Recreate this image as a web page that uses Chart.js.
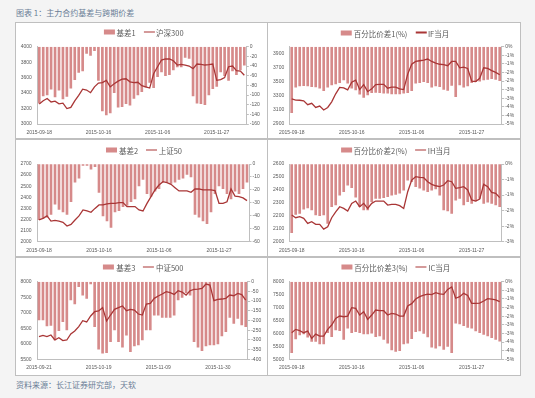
<!DOCTYPE html>
<html><head><meta charset="utf-8">
<script src="https://cdn.jsdelivr.net/npm/chart.js@4"></script>
<style>
html,body{margin:0;padding:0;}
body{width:535px;height:398px;background:#f4f4f4;position:relative;overflow:hidden;font-family:"Noto Sans CJK SC","Noto Sans",sans-serif;}
.note{position:absolute;left:16px;font-size:8px;line-height:10px;color:#6a7d96;white-space:nowrap;transform:translateY(-50%);}
.panel{position:absolute;background:#fff;border:1px solid #bfbfbf;box-sizing:border-box;}
.panel canvas{position:absolute;left:0;top:0;}
.legend{position:absolute;display:flex;align-items:center;transform:translate(-50%,-50%);white-space:nowrap;font-size:7.5px;line-height:9px;color:#595959;}
.sw-bar{width:11px;height:5px;background:#d68a8a;margin-right:2px;}
.sw-line{width:11px;height:1.4px;background:#a93636;margin-left:8px;margin-right:1.5px;}
</style></head>
<body>
<div class="note" style="top:12.7px">图表 1：主力合约基差与跨期价差</div>
<div class="note" style="top:385px">资料来源：长江证券研究部，天软</div>
<div id="wrap"></div>
<script>
// ---------- categories ----------
const datesA = ['2015-09-18','2015-09-21','2015-09-22','2015-09-23','2015-09-24','2015-09-25','2015-09-28','2015-09-29','2015-09-30','2015-10-08','2015-10-09','2015-10-12','2015-10-13','2015-10-14','2015-10-15','2015-10-16','2015-10-19','2015-10-20','2015-10-21','2015-10-22','2015-10-23','2015-10-26','2015-10-27','2015-10-28','2015-10-29','2015-10-30','2015-11-02','2015-11-03','2015-11-04','2015-11-05','2015-11-06','2015-11-09','2015-11-10','2015-11-11','2015-11-12','2015-11-13','2015-11-16','2015-11-17','2015-11-18','2015-11-19','2015-11-20','2015-11-23','2015-11-24','2015-11-25','2015-11-26','2015-11-27','2015-11-30','2015-12-01','2015-12-02','2015-12-03','2015-12-04','2015-12-07','2015-12-08'];
const datesB = ['2015-09-21','2015-09-22','2015-09-23','2015-09-24','2015-09-25','2015-09-28','2015-09-29','2015-09-30','2015-10-08','2015-10-09','2015-10-12','2015-10-13','2015-10-14','2015-10-15','2015-10-16','2015-10-19','2015-10-20','2015-10-21','2015-10-22','2015-10-23','2015-10-26','2015-10-27','2015-10-28','2015-10-29','2015-10-30','2015-11-02','2015-11-03','2015-11-04','2015-11-05','2015-11-06','2015-11-09','2015-11-10','2015-11-11','2015-11-12','2015-11-13','2015-11-16','2015-11-17','2015-11-18','2015-11-19','2015-11-20','2015-11-23','2015-11-24','2015-11-25','2015-11-26','2015-11-27','2015-11-30','2015-12-01','2015-12-02','2015-12-03','2015-12-04','2015-12-07','2015-12-08','2015-12-09'];
const shownA = ['2015-09-18','2015-10-16','2015-11-06','2015-11-27'];
const shownB = ['2015-09-21','2015-10-19','2015-11-09','2015-11-30'];

// ---------- series ----------
const p1Basis = [-117,-102,-100,-88,-104,-90,-108,-103,-86,-68,-53,-50,-14,-18,-8,-70,-133,-141,-137,-95,-125,-124,-118,-121,-107,-100,-93,-84,-74,-85,-62,-52,-60,-58,-48,-42,-42,-22,-24,-102,-117,-118,-120,-100,-87,-82,-52,-60,-70,-50,-58,-48,-38];
const p1Index = [3259,3300,3330,3285,3295,3260,3270,3200,3215,3300,3370,3450,3440,3405,3480,3530,3535,3565,3480,3520,3555,3580,3585,3545,3535,3540,3495,3480,3465,3650,3741,3828,3841,3841,3819,3763,3772,3763,3750,3716,3776,3772,3763,3767,3776,3565,3575,3600,3741,3750,3690,3685,3630];

const p2Spread = [-3.84,-2.36,-2.29,-2.27,-2.29,-2.33,-2.34,-2.42,-2.56,-2.36,-2.23,-2.17,-2.09,-1.94,-2.13,-2.42,-2.52,-2.77,-2.95,-2.81,-2.67,-2.66,-2.67,-2.71,-2.71,-2.75,-2.75,-2.75,-2.71,-2.67,-2.56,-2.13,-2.09,-2.03,-2.09,-2.36,-2.29,-2.33,-2.48,-2.55,-2.25,-2.91,-2.23,-2.36,-2.29,-2.09,-2.03,-2.0,-1.94,-1.90,-1.86,-1.90,-1.98];
const p2Future = [3256,3241,3238,3230,3175,3195,3135,3155,3100,3135,3215,3330,3420,3415,3385,3495,3525,3390,3460,3360,3400,3460,3465,3465,3410,3425,3425,3400,3390,3610,3750,3790,3800,3810,3825,3790,3765,3750,3745,3730,3790,3790,3700,3710,3690,3510,3505,3550,3700,3690,3660,3635,3600];

const p3Basis = [-43,-42,-41,-39,-31,-35,-37,-39,-29,-14,-11,-1,-1,-4,-2,-22,-40,-44,-49,-37,-36,-33,-32,-29,-27,-17,-12,-23,-25,-21,-19,-14,-14,-15,-14,-12,-11,-8,-10,-39,-41,-44,-46,-37,-23,-17,-19,-23,-27,-21,-23,-19,-14];
const p3Index = [2196,2210,2232,2186,2192,2186,2175,2141,2156,2196,2232,2286,2277,2265,2300,2331,2331,2340,2346,2346,2352,2352,2316,2316,2316,2286,2277,2345,2406,2466,2511,2541,2532,2517,2487,2457,2457,2457,2445,2475,2475,2466,2466,2466,2460,2346,2346,2360,2475,2410,2406,2395,2370];

const p4Spread = [-2.21,-1.62,-1.59,-1.45,-1.41,-1.48,-1.64,-1.66,-1.64,-1.91,-1.37,-1.32,-1.00,-0.89,-0.68,-0.76,-1.07,-1.37,-1.48,-1.48,-1.21,-1.11,-1.11,-1.08,-1.05,-1.00,-0.98,-0.94,-0.84,-0.52,-0.57,-0.73,-0.78,-0.84,-0.89,-0.84,-0.80,-1.00,-1.48,-1.51,-1.59,-1.16,-1.11,-1.32,-1.21,-1.27,-1.19,-1.11,-1.27,-1.23,-1.27,-1.32,-1.37];
const p4Future = [2206,2185,2193,2180,2141,2154,2134,2134,2097,2115,2185,2231,2270,2257,2237,2296,2314,2270,2296,2257,2296,2314,2314,2314,2283,2288,2288,2278,2257,2386,2476,2502,2497,2494,2463,2443,2432,2425,2438,2471,2463,2412,2417,2425,2400,2322,2314,2330,2443,2425,2381,2373,2340];

const p5Basis = [-197,-197,-228,-225,-300,-252,-206,-249,-94,-115,-26,-69,-86,-12,-232,-348,-369,-366,-309,-249,-309,-338,-275,-361,-331,-326,-300,-249,-249,-172,-172,-184,-184,-184,-172,-94,-81,-57,-69,-309,-338,-355,-331,-326,-326,-321,-280,-258,-184,-215,-189,-223,-232];
const p5Index = [6230,6272,6230,6283,6122,6197,6101,6122,6315,6412,6551,6745,6702,6895,7034,7056,7163,6734,6927,7109,7163,7217,7067,7109,7088,6959,6927,7281,7303,7464,7539,7603,7678,7646,7592,7710,7667,7571,7710,7753,7764,7785,7925,7893,7388,7431,7442,7464,7571,7549,7624,7582,7410];

const p6Spread = [-4.11,-3.32,-3.09,-3.03,-3.22,-3.47,-3.47,-3.61,-3.61,-2.95,-3.19,-2.80,-2.84,-3.34,-2.70,-2.95,-2.90,-2.95,-3.03,-3.03,-2.99,-3.19,-3.15,-3.34,-3.57,-3.96,-4.05,-4.00,-3.61,-3.57,-3.30,-2.90,-2.85,-3.00,-3.20,-3.80,-3.86,-3.73,-3.92,-3.76,-4.11,-2.40,-2.45,-2.55,-2.65,-2.70,-2.85,-2.95,-3.05,-3.15,-3.25,-3.35,-3.45];
const p6Future = [6028,6157,6105,6028,6092,5809,5976,5899,5899,6157,6324,6582,6672,6646,6672,6995,6969,6711,6840,6543,6711,6904,6878,6878,6711,6775,6750,6672,6672,7060,7150,7330,7420,7480,7520,7500,7575,7530,7510,7700,7800,7360,7420,7550,7470,7165,7165,7170,7255,7345,7330,7300,7230];

// ---------- legend names ----------
const names = [['基差1','沪深300'],['百分比价差1(%)','IF当月'],['基差2','上证50'],['百分比价差2(%)','IH当月'],['基差3','中证500'],['百分比价差3(%)','IC当月']];

// ---------- axis ticks ----------
const p1LeftTicks = [3000,3200,3400,3600,3800,4000];
const p1RightTicks = [0,-20,-40,-60,-80,-100,-120,-140,-160];
const p2LeftTicks = [2900,3100,3300,3500,3700,3900];
const p2LeftRange = [2900,4000];
const p2RightTicks = [0,-0.5,-1,-1.5,-2,-2.5,-3,-3.5,-4,-4.5];
const p2RightLabels = ['0%','-1%','-1%','-2%','-2%','-3%','-3%','-4%','-4%','-5%'];
const p3LeftTicks = [2000,2100,2200,2300,2400,2500,2600,2700];
const p3RightTicks = [0,-10,-20,-30,-40,-50,-60];
const p4LeftTicks = [2000,2100,2200,2300,2400,2500,2600];
const p4RightTicks = [0,-0.5,-1,-1.5,-2,-2.5];
const p4RightLabels = ['0%','-1%','-1%','-2%','-2%','-3%'];
const p5LeftTicks = [5500,6000,6500,7000,7500,8000];
const p5RightTicks = [0,-50,-100,-150,-200,-250,-300,-350,-400];
const p6LeftTicks = [5000,5500,6000,6500,7000,7500,8000];
const p6RightTicks = [0,-0.5,-1,-1.5,-2,-2.5,-3,-3.5,-4,-4.5];
const p6RightLabels = ['0%','-1%','-1%','-2%','-2%','-3%','-3%','-4%','-4%','-5%'];

const BAR = '#d68a8a', LINE = '#a93636', AX = '#bfbfbf', TXT = '#595959';
const tickFont = {family:'Liberation Sans', size:5};

function rangeOf(t){ return [Math.min(...t), Math.max(...t)]; }

const panels = [
 {box:[15,22,253,117], plot:[37.3,246.3,46.7,124], leg:[143.5,32], cats:datesA, shown:shownA, bars:p1Basis, line:p1Index, lt:p1LeftTicks, lr:rangeOf(p1LeftTicks), rt:p1RightTicks, rl:null, n:names[0]},
 {box:[267,22,254,117], plot:[289.7,501.7,46.7,124], leg:[395,32.7], cats:datesA, shown:shownA, bars:p2Spread, line:p2Future, lt:p2LeftTicks, lr:p2LeftRange, rt:p2RightTicks, rl:p2RightLabels, n:names[1]},
 {box:[15,139,253,118], plot:[37,249,164,241.7], leg:[144,150], cats:datesA, shown:shownA, bars:p3Basis, line:p3Index, lt:p3LeftTicks, lr:rangeOf(p3LeftTicks), rt:p3RightTicks, rl:null, n:names[2]},
 {box:[267,139,254,118], plot:[289.7,501.7,164,241.7], leg:[395.5,150], cats:datesA, shown:shownA, bars:p4Spread, line:p4Future, lt:p4LeftTicks, lr:rangeOf(p4LeftTicks), rt:p4RightTicks, rl:p4RightLabels, n:names[3]},
 {box:[15,257,253,119], plot:[37,247.7,281.7,359.3], leg:[143.3,267.3], cats:datesB, shown:shownB, bars:p5Basis, line:p5Index, lt:p5LeftTicks, lr:rangeOf(p5LeftTicks), rt:p5RightTicks, rl:null, n:names[4]},
 {box:[267,257,254,119], plot:[289.7,501.7,281.7,359.3], leg:[395.8,267.3], cats:datesA, shown:shownA, bars:p6Spread, line:p6Future, lt:p6LeftTicks, lr:rangeOf(p6LeftTicks), rt:p6RightTicks, rl:p6RightLabels, n:names[5]}
];

panels.forEach((p, k) => {
  const [L,T,W,H] = p.box;
  const div = document.createElement('div');
  div.className = 'panel';
  Object.assign(div.style, {left:L+'px', top:T+'px', width:W+'px', height:H+'px'});
  const cv = document.createElement('canvas');
  const cw = W-2, ch = H-2;
  cv.width = cw; cv.height = ch;
  cv.style.width = cw+'px'; cv.style.height = ch+'px';
  div.appendChild(cv);
  document.body.appendChild(div);

  const ix = L+1, iy = T+1;
  const lw = p.plot[0]-ix, rw = (ix+cw)-p.plot[1], tp = p.plot[2]-iy, xh = (iy+ch)-p.plot[3];

  const leg = document.createElement('div');
  leg.className = 'legend';
  leg.style.left = p.leg[0]+'px'; leg.style.top = p.leg[1]+'px';
  leg.innerHTML = '<div class="sw-bar"></div><span>'+p.n[0]+'</span><div class="sw-line"></div><span>'+p.n[1]+'</span>';
  document.body.appendChild(leg);

  const rr = rangeOf(p.rt);
  new Chart(cv.getContext('2d'), {
    type:'bar',
    data:{
      labels:p.cats,
      datasets:[
        {type:'line', label:p.n[1], data:p.line, yAxisID:'y', borderColor:LINE, borderWidth:1.3, pointRadius:0, tension:0, order:0},
        {type:'bar', label:p.n[0], data:p.bars, yAxisID:'y1', backgroundColor:BAR, barThickness:2, order:1}
      ]
    },
    options:{
      responsive:false, animation:false, devicePixelRatio:1, events:[],
      layout:{padding:{top:tp, left:0, right:0, bottom:0}},
      plugins:{legend:{display:false}, tooltip:{enabled:false}},
      scales:{
        x:{type:'category', offset:true,
           grid:{display:true, drawOnChartArea:false, drawTicks:false},
           border:{display:true, color:AX, width:1},
           ticks:{autoSkip:false, maxRotation:0, minRotation:0, padding:5.5, font:tickFont, color:TXT,
                  callback:(v,i)=> p.shown.includes(p.cats[i]) ? p.cats[i] : ''},
           afterFit:s=>{s.height = xh;}},
        y:{position:'left', min:p.lr[0], max:p.lr[1],
           grid:{display:true, drawOnChartArea:false, drawTicks:false},
           border:{display:true, color:AX, width:1},
           afterBuildTicks:a=>{a.ticks = p.lt.map(v=>({value:v}));},
           ticks:{autoSkip:false, padding:5.5, font:tickFont, color:TXT, callback:v=>String(v)},
           afterFit:s=>{s.width = lw;}},
        y1:{position:'right', min:rr[0], max:rr[1],
           grid:{display:true, drawOnChartArea:false, drawTicks:true, tickLength:2.5, color:AX},
           border:{display:true, color:AX, width:1},
           afterBuildTicks:a=>{a.ticks = p.rt.map(v=>({value:v}));},
           ticks:{autoSkip:false, padding:1, font:tickFont, color:TXT,
                  callback:(v,i)=> p.rl ? p.rl[i] : String(v)},
           afterFit:s=>{s.width = rw;}}
      }
    }
  });
});
</script>
</body></html>
